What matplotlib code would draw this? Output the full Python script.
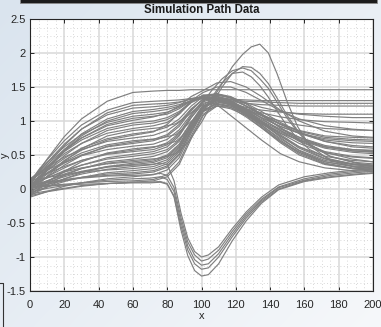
import numpy as np
import matplotlib
matplotlib.use("Agg")
import matplotlib.pyplot as plt
from matplotlib.patches import Rectangle
from matplotlib.lines import Line2D
from matplotlib.ticker import MultipleLocator, FixedLocator

plt.rcParams['font.family'] = ['Liberation Sans', 'DejaVu Sans']

# ---- sample positions along x ----
path_x = [0, 5, 10, 20, 30, 45, 60, 72, 80, 87, 94, 101, 109, 117, 126, 135, 146, 157, 172, 188, 200]
peak_x = [0, 5, 10, 20, 30, 45, 60, 75, 85, 92, 100, 106, 112, 118, 124, 129, 134, 139, 144, 150, 156, 163, 175, 190, 200]
dip_x = [0, 5, 10, 20, 30, 45, 60, 70, 76, 80, 84, 88, 92, 96, 100, 104, 110, 118, 126, 135, 145, 160, 175, 190, 200]

# ---- paths with a high early plateau ----
upper_paths = [
    [0.05, 0.26, 0.44, 0.77, 1.03, 1.29, 1.42, 1.44, 1.45, 1.45, 1.46, 1.46, 1.46, 1.46, 1.46, 1.46, 1.46, 1.46, 1.46, 1.46, 1.46],
    [0.10, 0.28, 0.43, 0.71, 0.94, 1.16, 1.27, 1.29, 1.30, 1.31, 1.33, 1.34, 1.33, 1.32, 1.31, 1.30, 1.30, 1.30, 1.30, 1.30, 1.30],
    [0.00, 0.19, 0.35, 0.64, 0.88, 1.12, 1.23, 1.25, 1.26, 1.28, 1.32, 1.35, 1.34, 1.31, 1.29, 1.28, 1.27, 1.26, 1.26, 1.26, 1.26],
    [0.08, 0.25, 0.39, 0.66, 0.88, 1.09, 1.19, 1.21, 1.23, 1.27, 1.33, 1.36, 1.33, 1.29, 1.26, 1.24, 1.23, 1.22, 1.22, 1.22, 1.22],
    [-0.03, 0.15, 0.30, 0.58, 0.81, 1.03, 1.14, 1.17, 1.20, 1.24, 1.30, 1.33, 1.30, 1.24, 1.18, 1.12, 1.06, 1.02, 0.99, 0.98, 0.97],
    [-0.05, 0.13, 0.28, 0.56, 0.78, 1.00, 1.11, 1.14, 1.17, 1.22, 1.30, 1.35, 1.32, 1.26, 1.20, 1.16, 1.13, 1.11, 1.10, 1.10, 1.10],
    [0.12, 0.26, 0.39, 0.62, 0.80, 0.98, 1.07, 1.10, 1.13, 1.20, 1.30, 1.37, 1.38, 1.34, 1.27, 1.20, 1.14, 1.10, 1.07, 1.05, 1.05],
    [0.02, 0.17, 0.31, 0.56, 0.75, 0.95, 1.04, 1.07, 1.10, 1.18, 1.30, 1.42, 1.50, 1.50, 1.42, 1.30, 1.15, 1.03, 0.93, 0.88, 0.86],
    [0.10, 0.24, 0.36, 0.58, 0.75, 0.93, 1.01, 1.06, 1.12, 1.22, 1.36, 1.45, 1.56, 1.58, 1.50, 1.36, 1.16, 1.00, 0.85, 0.78, 0.76],
]

# ---- paths with a middle plateau ----
middle_paths = [
    [0.08, 0.22, 0.33, 0.55, 0.72, 0.89, 0.97, 1.00, 1.05, 1.14, 1.28, 1.38, 1.40, 1.34, 1.22, 1.10, 0.96, 0.86, 0.78, 0.76, 0.75],
    [0.00, 0.14, 0.27, 0.49, 0.67, 0.86, 0.94, 0.97, 1.02, 1.12, 1.27, 1.35, 1.32, 1.25, 1.16, 1.08, 1.00, 0.94, 0.89, 0.87, 0.86],
    [0.10, 0.22, 0.32, 0.52, 0.67, 0.82, 0.89, 0.93, 0.98, 1.10, 1.28, 1.38, 1.36, 1.28, 1.17, 1.05, 0.92, 0.82, 0.74, 0.71, 0.70],
    [0.05, 0.17, 0.27, 0.45, 0.60, 0.74, 0.81, 0.85, 0.91, 1.03, 1.22, 1.36, 1.40, 1.34, 1.22, 1.08, 0.90, 0.76, 0.62, 0.56, 0.54],
    [0.00, 0.12, 0.22, 0.42, 0.57, 0.72, 0.79, 0.84, 0.95, 1.12, 1.30, 1.34, 1.24, 1.08, 0.90, 0.72, 0.52, 0.40, 0.31, 0.27, 0.26],
    [0.15, 0.24, 0.32, 0.47, 0.58, 0.70, 0.75, 0.79, 0.86, 0.98, 1.18, 1.32, 1.33, 1.26, 1.15, 1.02, 0.88, 0.76, 0.64, 0.58, 0.56],
    [-0.02, 0.09, 0.18, 0.35, 0.49, 0.63, 0.69, 0.73, 0.80, 0.95, 1.17, 1.32, 1.36, 1.30, 1.18, 1.04, 0.86, 0.70, 0.55, 0.48, 0.46],
    [0.06, 0.15, 0.23, 0.38, 0.50, 0.62, 0.67, 0.71, 0.78, 0.92, 1.15, 1.33, 1.40, 1.36, 1.25, 1.10, 0.90, 0.72, 0.54, 0.44, 0.40],
    [0.14, 0.21, 0.28, 0.39, 0.49, 0.58, 0.63, 0.66, 0.73, 0.87, 1.10, 1.30, 1.36, 1.32, 1.22, 1.10, 0.95, 0.82, 0.70, 0.64, 0.62],
    [0.02, 0.10, 0.18, 0.31, 0.42, 0.52, 0.57, 0.61, 0.68, 0.82, 1.08, 1.30, 1.38, 1.35, 1.26, 1.14, 0.98, 0.84, 0.70, 0.62, 0.60],
    [0.10, 0.17, 0.23, 0.33, 0.42, 0.51, 0.55, 0.58, 0.65, 0.80, 1.05, 1.26, 1.32, 1.26, 1.12, 0.96, 0.78, 0.62, 0.48, 0.42, 0.40],
]

# ---- paths with a low plateau ----
lower_paths = [
    [-0.05, 0.04, 0.11, 0.25, 0.35, 0.46, 0.51, 0.55, 0.62, 0.78, 1.05, 1.28, 1.36, 1.30, 1.16, 1.00, 0.80, 0.62, 0.45, 0.36, 0.33],
    [0.04, 0.11, 0.16, 0.27, 0.35, 0.44, 0.48, 0.52, 0.58, 0.72, 0.98, 1.22, 1.30, 1.27, 1.18, 1.08, 0.95, 0.85, 0.76, 0.73, 0.72],
    [-0.08, 0.00, 0.07, 0.20, 0.30, 0.40, 0.44, 0.48, 0.55, 0.70, 0.98, 1.24, 1.34, 1.28, 1.12, 0.94, 0.72, 0.54, 0.38, 0.31, 0.29],
    [0.08, 0.13, 0.17, 0.25, 0.31, 0.37, 0.40, 0.43, 0.50, 0.66, 0.96, 1.22, 1.30, 1.26, 1.16, 1.05, 0.92, 0.82, 0.72, 0.68, 0.67],
    [-0.10, -0.03, 0.03, 0.15, 0.24, 0.33, 0.38, 0.41, 0.48, 0.64, 0.95, 1.22, 1.32, 1.27, 1.14, 0.98, 0.78, 0.60, 0.44, 0.37, 0.35],
    [0.03, 0.08, 0.12, 0.20, 0.26, 0.33, 0.36, 0.39, 0.46, 0.62, 0.93, 1.20, 1.28, 1.24, 1.13, 0.99, 0.82, 0.67, 0.53, 0.47, 0.45],
    [-0.04, 0.02, 0.06, 0.15, 0.22, 0.29, 0.33, 0.36, 0.43, 0.60, 0.92, 1.20, 1.30, 1.24, 1.08, 0.90, 0.68, 0.50, 0.36, 0.30, 0.28],
    [0.12, 0.15, 0.17, 0.21, 0.25, 0.28, 0.30, 0.33, 0.40, 0.58, 0.90, 1.16, 1.26, 1.22, 1.12, 1.00, 0.86, 0.74, 0.62, 0.56, 0.55],
    [-0.06, -0.01, 0.03, 0.11, 0.17, 0.24, 0.27, 0.30, 0.37, 0.55, 0.88, 1.18, 1.32, 1.28, 1.15, 0.98, 0.76, 0.56, 0.40, 0.33, 0.31],
    [0.00, 0.04, 0.07, 0.12, 0.17, 0.22, 0.24, 0.27, 0.34, 0.52, 0.86, 1.15, 1.25, 1.20, 1.06, 0.90, 0.70, 0.54, 0.40, 0.34, 0.32],
    [0.05, 0.08, 0.10, 0.14, 0.17, 0.20, 0.22, 0.25, 0.32, 0.50, 0.85, 1.14, 1.22, 1.18, 1.08, 0.96, 0.82, 0.72, 0.62, 0.58, 0.57],
    [-0.12, -0.08, -0.04, 0.04, 0.09, 0.15, 0.18, 0.21, 0.28, 0.46, 0.82, 1.14, 1.28, 1.24, 1.10, 0.92, 0.70, 0.52, 0.37, 0.30, 0.28],
    [0.02, 0.04, 0.05, 0.07, 0.09, 0.11, 0.12, 0.14, 0.21, 0.40, 0.78, 1.10, 1.24, 1.22, 1.10, 0.94, 0.74, 0.57, 0.42, 0.36, 0.34],
    [-0.10, -0.07, -0.04, 0.00, 0.04, 0.08, 0.10, 0.12, 0.18, 0.36, 0.74, 1.08, 1.22, 1.20, 1.10, 0.98, 0.84, 0.72, 0.60, 0.54, 0.52],
]

# ---- paths with a tall overshoot ----
peak_paths = [
    [-0.08, 0.06, 0.19, 0.41, 0.59, 0.78, 0.86, 0.90, 0.96, 1.08, 1.25, 1.45, 1.62, 1.74, 1.78, 1.74, 1.62, 1.48, 1.28, 1.04, 0.84, 0.66, 0.48, 0.38, 0.35],
    [-0.10, 0.01, 0.10, 0.26, 0.40, 0.53, 0.59, 0.63, 0.70, 0.85, 1.10, 1.35, 1.56, 1.70, 1.72, 1.65, 1.52, 1.35, 1.15, 0.92, 0.74, 0.58, 0.44, 0.36, 0.33],
    [0.00, 0.06, 0.12, 0.22, 0.30, 0.38, 0.42, 0.45, 0.52, 0.68, 0.98, 1.25, 1.50, 1.70, 1.80, 1.79, 1.70, 1.55, 1.34, 1.08, 0.86, 0.66, 0.48, 0.39, 0.37],
    [0.05, 0.15, 0.24, 0.40, 0.53, 0.65, 0.71, 0.74, 0.80, 0.95, 1.12, 1.30, 1.55, 1.80, 1.98, 2.09, 2.13, 2.00, 1.70, 1.28, 0.92, 0.64, 0.42, 0.32, 0.30],
]

# ---- paths that swing negative ----
dip_paths = [
    [0.00, 0.05, 0.10, 0.18, 0.25, 0.32, 0.35, 0.36, 0.38, 0.36, 0.12, -0.35, -0.72, -0.92, -1.00, -0.97, -0.85, -0.58, -0.34, -0.12, 0.06, 0.18, 0.24, 0.28, 0.30],
    [0.05, 0.07, 0.09, 0.13, 0.16, 0.19, 0.20, 0.21, 0.23, 0.20, 0.02, -0.42, -0.78, -0.97, -1.06, -1.03, -0.90, -0.62, -0.37, -0.15, 0.03, 0.15, 0.22, 0.26, 0.28],
    [-0.05, -0.02, 0.01, 0.05, 0.09, 0.13, 0.15, 0.16, 0.18, 0.14, -0.04, -0.48, -0.84, -1.04, -1.12, -1.10, -0.95, -0.66, -0.40, -0.17, 0.02, 0.13, 0.20, 0.24, 0.26],
    [0.02, 0.03, 0.04, 0.06, 0.07, 0.08, 0.09, 0.09, 0.10, 0.07, -0.10, -0.54, -0.90, -1.10, -1.18, -1.16, -1.00, -0.70, -0.43, -0.19, 0.00, 0.12, 0.18, 0.22, 0.24],
    [-0.08, -0.05, -0.03, 0.01, 0.05, 0.08, 0.10, 0.10, 0.11, 0.08, -0.12, -0.60, -0.98, -1.20, -1.28, -1.26, -1.10, -0.76, -0.47, -0.21, -0.01, 0.11, 0.17, 0.21, 0.23]
]

x_ticks = [0, 20, 40, 60, 80, 100, 120, 140, 160, 180, 200]
y_ticks = [-1.5, -1, -0.5, 0, 0.5, 1, 1.5, 2, 2.5]
y_tick_labels = ['-1.5', '-1', '-0.5', '0', '0.5', '1', '1.5', '2', '2.5']

W, H = 381, 327
fig = plt.figure(figsize=(W / 100, H / 100), dpi=100)

# soft diagonal backdrop
bg = fig.add_axes([0, 0, 1, 1], zorder=-10)
gy, gx = np.mgrid[0:1:H * 1j, 0:1:W * 1j]
t = np.clip(0.55 * gx + 0.45 * gy, 0, 1)[..., None]
c0 = np.array([0.855, 0.895, 0.935])
c1 = np.array([0.965, 0.972, 0.982])
bg.imshow(c0 * (1 - t) + c1 * t, aspect='auto', extent=[0, 1, 0, 1], origin='upper')
bg.axis('off')

# dark strip along the top edge
fig.patches.append(Rectangle((20 / W, (H - 3) / H), 357 / W, 6 / H,
                             transform=fig.transFigure, facecolor='#1c1c1c',
                             edgecolor='#8a8a8a', lw=0.6, zorder=5))
# partial frame at the lower left
fig.lines.append(Line2D([0, 3 / W, 3 / W], [(H - 283) / H, (H - 283) / H, 0],
                        transform=fig.transFigure, color='#333333', lw=0.8))

ax = fig.add_axes([30 / W, (H - 291) / H, 343 / W, 272 / H])
ax.set_facecolor('white')

line_kw = dict(color='#808080', lw=0.85, solid_capstyle='round')
for group in (upper_paths, middle_paths, lower_paths):
    for ys in group:
        ax.plot(path_x, ys, **line_kw)
for ys in peak_paths:
    ax.plot(peak_x, ys, **line_kw)
for ys in dip_paths:
    ax.plot(dip_x, ys, **line_kw)

ax.set_xlim(0, 200)
ax.set_ylim(-1.5, 2.5)
ax.xaxis.set_major_locator(FixedLocator(x_ticks))
ax.yaxis.set_major_locator(FixedLocator(y_ticks))
ax.set_yticklabels(y_tick_labels)
ax.xaxis.set_minor_locator(MultipleLocator(5))
ax.yaxis.set_minor_locator(MultipleLocator(0.125))

ax.grid(which='major', color='#d9d9d9', lw=1.1, ls='-')
ax.grid(which='minor', color='#cccccc', lw=0.6, ls=(0, (1, 3)))
ax.set_axisbelow(True)

ax.tick_params(which='major', direction='in', length=3, width=0.7, color='#262626',
               top=True, right=True, labelsize=8, labelcolor='#262626')
ax.tick_params(axis='x', which='major', pad=6.5)
ax.tick_params(axis='y', which='major', pad=3)
ax.tick_params(which='minor', length=0)
for s in ax.spines.values():
    s.set_color('#262626')
    s.set_linewidth(0.8)

ax.set_title('Simulation Path Data', fontsize=8.3, fontweight='bold', color='#1a1a1a', pad=4)
ax.set_xlabel('x', fontsize=8, color='#262626', labelpad=1)
fig.text(5 / W, 1 - 155 / H, 'y', rotation=90, ha='center', va='center',
         fontsize=8, color='#262626')

fig.savefig('out.png', dpi=100)
